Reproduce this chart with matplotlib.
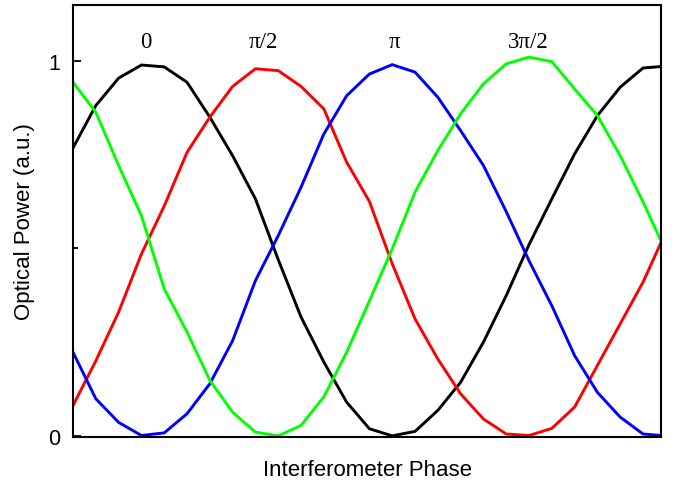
import numpy as np
import matplotlib
matplotlib.use("Agg")
import matplotlib.pyplot as plt
from matplotlib.ticker import FixedLocator, NullFormatter

# =========================================================
# DATA (one sample per phase step)
# =========================================================

step = np.arange(27)

black = [0.768, 0.881, 0.954, 0.989, 0.984, 0.943, 0.850, 0.747, 0.632,
         0.470, 0.317, 0.197, 0.090, 0.019, 0.000, 0.012, 0.068, 0.143,
         0.250, 0.374, 0.510, 0.632, 0.752, 0.854, 0.930, 0.981, 0.986]

red = [0.081, 0.200, 0.330, 0.485, 0.613, 0.756, 0.850, 0.932, 0.979,
       0.974, 0.932, 0.872, 0.730, 0.625, 0.459, 0.312, 0.205, 0.112,
       0.045, 0.005, 0.001, 0.020, 0.077, 0.188, 0.299, 0.410, 0.544]

blue = [0.223, 0.099, 0.036, 0.001, 0.008, 0.059, 0.139, 0.254, 0.414,
        0.534, 0.663, 0.805, 0.907, 0.965, 0.990, 0.970, 0.903, 0.814,
        0.721, 0.598, 0.467, 0.347, 0.214, 0.116, 0.050, 0.005, 0.000]

green = [0.943, 0.863, 0.721, 0.587, 0.392, 0.277, 0.148, 0.063, 0.010,
         0.000, 0.028, 0.104, 0.223, 0.360, 0.499, 0.650, 0.761, 0.859,
         0.939, 0.992, 1.010, 0.998, 0.925, 0.854, 0.747, 0.624, 0.492]

phase_labels = ["0", "\u03c0/2", "\u03c0", "3\u03c0/2"]
phase_pos = [3.2, 8.33, 14.08, 19.96]

y_ticks = [0, 1]
y_tick_labels = ["0", "1"]

# =========================================================
# PLOT
# =========================================================

fig = plt.figure(figsize=(6.78, 4.85), dpi=100)
ax = fig.add_axes([0.1077, 0.0969, 0.8673, 0.8907])

lw = 2.1
ax.plot(step, black, color="black", linewidth=lw)
ax.plot(step, red, color="#ff0000", linewidth=lw)
ax.plot(step, blue, color="#0000ff", linewidth=lw)
ax.plot(step, green, color="#00ff00", linewidth=lw)

ax.set_xlim(0, 25.79)
ax.set_ylim(-0.003, 1.149)

for lab, xp in zip(phase_labels, phase_pos):
    ax.text(xp, 1.051, lab, ha="center", va="center",
            fontsize=16.5, family="Liberation Serif")

ax.set_xticks([])
ax.set_yticks(y_ticks)
ax.set_yticklabels(y_tick_labels, fontsize=15.5, family="Liberation Sans")
ax.yaxis.set_minor_locator(FixedLocator([0.5]))
ax.yaxis.set_minor_formatter(NullFormatter())
ax.tick_params(axis="y", which="major", direction="in", length=6,
               width=1.3, pad=9, right=False)
ax.tick_params(axis="y", which="minor", direction="in", length=3.5,
               width=1.3, right=False)

for sp in ax.spines.values():
    sp.set_linewidth(1.5)

ax.set_xlabel("Interferometer Phase", fontsize=16,
              family="Liberation Sans", labelpad=16)
ax.set_ylabel("Optical Power (a.u.)", fontsize=16,
              family="Liberation Sans", labelpad=10)

fig.savefig("out.png", dpi=100)
